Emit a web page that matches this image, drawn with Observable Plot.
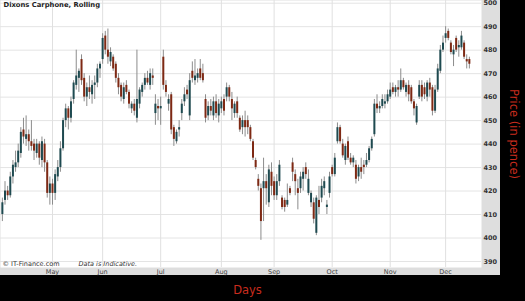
<!DOCTYPE html>
<html>
<head>
<meta charset="utf-8">
<script src="https://cdn.jsdelivr.net/npm/d3@7"></script>
<script src="https://cdn.jsdelivr.net/npm/@observablehq/plot@0.6"></script>
<style>
  html, body { margin: 0; padding: 0; background: #000; }
  #wrap { position: relative; width: 525px; height: 301px; background: #000; overflow: hidden; }
  #panel { position: absolute; left: 0; top: 0; width: 500px; height: 275px; background: #dedede; }
  #chart { position: absolute; left: 0; top: 0; }
</style>
</head>
<body>
<div id="wrap"><div id="panel"></div><div id="chart"></div></div>
<script>
const opens = [410,416,420,418,426,430,432,436,446,442,444,441,440,436,440,433,440,432,419,423,
419,426,430,438,450,455,451,459,465,468,476,468,460,464,461,465,466,472,476,486,
480,475,477,474,468,465,459,465,462,455,457,451,457,462,465,468,465,469,453,456,
455,477,465,457,461,447,441,446,453,458,463,452,471,467,468,472,470,459,452,456,
452,458,452,455,459,460,464,459,453,458,451,447,450,450,447,441,433,425,421,421,
424,415,428,424,418,424,417,416,414,421,432,427,421,421,425,430,419,415,415,402,
416,417,421,413,419,430,427,441,447,440,433,441,434,432,431,426,430,431,431,433,
438,444,457,455,456,457,458,460,464,462,464,463,467,462,465,464,458,449,460,465,
464,460,466,464,454,463,471,480,485,488,483,478,485,481,481,483,476,476];
const highs = [417,424,422,428,433,437,440,447,451,452,446,450,442,442,441,443,442,433,426,425,
429,433,441,451,457,456,460,467,480,472,478,470,466,469,467,469,474,475,487,488,
489,481,478,475,470,466,466,467,463,458,459,480,464,466,470,471,472,472,461,459,
460,480,467,461,462,448,446,450,459,464,465,470,475,476,472,476,474,461,458,459,
460,461,459,460,461,466,465,462,458,460,452,452,454,452,448,442,434,427,423,434,
427,431,432,426,427,433,418,417,423,422,434,429,425,428,430,432,429,420,417,418,
422,425,426,416,428,431,436,449,448,442,440,443,436,435,433,431,434,433,436,439,
443,459,461,458,461,461,463,466,466,465,467,472,468,466,467,465,459,457,467,467,
466,467,468,465,465,474,482,486,490,489,484,482,486,484,488,484,478,477];
const lows = [407,414,416,417,423,428,430,434,440,439,437,437,433,434,431,430,428,417,414,414,
416,424,428,437,447,446,449,457,463,462,465,458,456,459,457,459,464,468,474,478,
474,473,471,466,461,458,457,461,455,453,452,449,455,460,463,465,463,465,448,450,
448,463,460,454,444,439,440,443,450,456,459,450,466,465,466,467,466,449,450,452,
450,451,449,453,452,458,458,450,451,451,445,444,443,444,441,433,429,420,399,407,
414,413,418,416,416,422,412,411,413,418,424,418,412,419,420,425,418,413,406,401,
410,415,418,410,417,426,426,440,440,434,431,433,431,430,423,424,425,427,430,432,
437,443,453,453,455,455,457,459,461,460,460,462,463,460,458,457,452,448,459,458,
459,458,460,452,453,462,470,479,483,484,478,473,479,477,480,476,472,472];
const closes = [415,420,418,426,431,432,437,445,443,444,441,439,437,440,434,441,432,419,423,419,
427,430,438,450,455,451,458,466,469,471,467,460,464,462,465,466,472,474,485,480,
477,479,472,468,464,460,464,462,457,457,454,459,463,465,468,466,470,468,457,455,
456,465,462,459,446,442,445,447,457,461,461,467,468,469,470,468,467,451,456,454,
458,453,457,458,454,464,460,455,457,453,446,450,447,447,442,434,430,422,407,424,
421,429,422,418,424,431,413,413,416,419,428,424,419,426,428,427,425,419,408,417,
413,422,424,414,426,427,434,447,441,435,439,434,432,434,425,430,428,430,433,438,
442,457,455,456,459,458,461,463,462,464,463,467,464,465,461,458,455,456,465,460,
461,466,463,454,463,472,480,483,487,485,479,480,480,482,486,477,475,474];

const monthStarts = [20, 39, 61, 84, 104, 126, 148, 169];
const monthLabels = ["May", "Jun", "Jul", "Aug", "Sep", "Oct", "Nov", "Dec"];
const yTicks = [390, 400, 410, 420, 430, 440, 450, 460, 470, 480, 490, 500];

const candles = opens.map((o, k) => ({
  day: k + 1, open: o, high: highs[k], low: lows[k], close: closes[k]
}));

const upColor = "#1e4a50";
const downColor = "#7e2914";
const labelRed = "#c92c1e";

const chart = Plot.plot({
  width: 525,
  height: 301,
  marginLeft: 0,
  marginRight: 44,
  marginTop: 0,
  marginBottom: 34,
  style: { background: "transparent", fontFamily: "DejaVu Sans, sans-serif", overflow: "visible" },
  x: { domain: [0.29, 182.6], axis: null },
  y: { domain: [387.44, 501.15], axis: null },
  marks: [
    Plot.frame({ fill: "white", stroke: null }),
    Plot.gridY(yTicks, { stroke: "#e4e4e4", strokeOpacity: 1 }),
    Plot.gridX(monthStarts, { stroke: "#e0e0e0", strokeOpacity: 1 }),
    Plot.axisY(yTicks, {
      anchor: "right", tickSize: 0, tickPadding: 2, fontSize: 6.5, fontWeight: "bold",
      fill: "#333", textAnchor: "start", label: null
    }),
    Plot.axisX(monthStarts, {
      tickSize: 0, tickPadding: 2, fontSize: 6.5, fill: "#444", label: null,
      tickFormat: d => monthLabels[monthStarts.indexOf(d)]
    }),
    Plot.ruleX(candles, { x: "day", y1: "low", y2: "high", stroke: "#8c8c8c", strokeWidth: 1 }),
    Plot.ruleX(candles, {
      x: "day", y1: "open", y2: "close", strokeWidth: 2,
      stroke: d => d.close >= d.open ? upColor : downColor
    }),
    Plot.text(["Dixons Carphone, Rolling"], {
      frameAnchor: "top-left", dx: 3, dy: 2, lineAnchor: "top", textAnchor: "start",
      fontSize: 6.8, fontWeight: "bold", fill: "#222"
    }),
    Plot.text(["© IT-Finance.com"], {
      frameAnchor: "bottom-left", dx: 2, dy: -2, lineAnchor: "bottom", textAnchor: "start",
      fontSize: 6.5, fill: "#333"
    }),
    Plot.text(["Data is Indicative."], {
      frameAnchor: "bottom-left", dx: 78, dy: -2, lineAnchor: "bottom", textAnchor: "start",
      fontSize: 6.5, fontStyle: "italic", fill: "#333"
    }),
    Plot.text(["Price (in pence)"], {
      frameAnchor: "right", dx: 32, rotate: 90, textAnchor: "middle", lineAnchor: "middle",
      fontSize: 11.5, fill: labelRed
    }),
    Plot.text(["Days"], {
      frameAnchor: "bottom", dx: 6.5, dy: 23, textAnchor: "middle", lineAnchor: "middle",
      fontSize: 11.5, fill: labelRed
    })
  ]
});
document.getElementById("chart").appendChild(chart);
</script>
</body>
</html>
